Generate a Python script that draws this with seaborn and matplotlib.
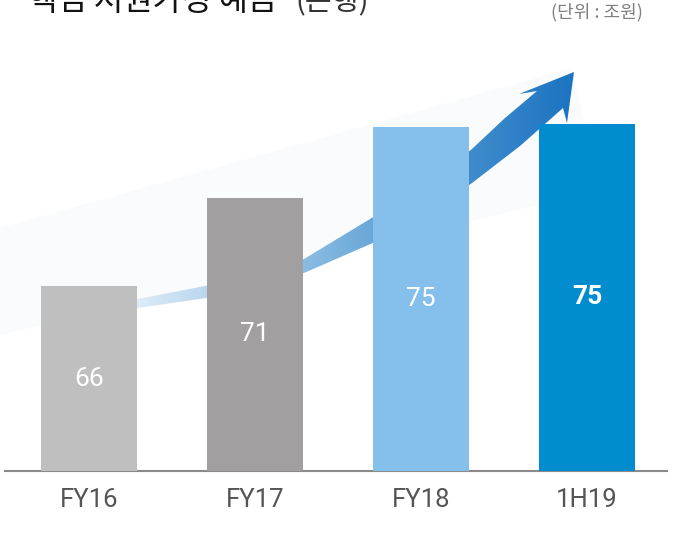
import matplotlib
matplotlib.use("Agg")
import matplotlib.pyplot as plt
import seaborn as sns
import numpy as np
from matplotlib.path import Path
from matplotlib.patches import PathPatch, Polygon
from matplotlib.colors import LinearSegmentedColormap

# 데이터
categories = ["FY16", "FY17", "FY18", "1H19"]
values = [65.9, 71.0, 75.1, 75.3]
bar_colors = ["#bfbfbf", "#a19fa0", "#84c0eb", "#008ccf"]
title_main = "핵심 저원가성 예금"
title_sub = "(은행)"
unit_text = "(단위 : 조원)"

sns.set_style("white")
plt.rcParams["font.family"] = ["Roboto", "DejaVu Sans"]
cjk = ["Noto Sans CJK KR", "DejaVu Sans"]

W, H = 674, 536
fig = plt.figure(figsize=(W / 100, H / 100), dpi=100)

# 배경 장식(화살표) - 픽셀 좌표
bg = fig.add_axes([0, 0, 1, 1])
bg.set_xlim(0, W)
bg.set_ylim(H, 0)
bg.axis("off")

wedge = Polygon([(0, 228), (572, 68), (600, 190), (0, 335)],
                closed=True, fc="#fafbfc", ec="none", zorder=0)
bg.add_patch(wedge)

upper = [(80, 313), (138, 299), (220, 283), (304, 259), (375, 216),
         (430, 183), (472, 149), (505, 118), (537, 91)]
head = [(519, 94), (574, 72), (567, 123), (563, 108)]
lower = [(520, 146), (472, 183), (430, 212), (375, 242), (304, 273),
         (220, 296), (138, 308), (80, 314)]
pts = upper + head + lower + [upper[0]]
codes = [Path.MOVETO] + [Path.LINETO] * (len(pts) - 2) + [Path.CLOSEPOLY]
arrow_patch = PathPatch(Path(pts, codes), fc="none", ec="none",
                        transform=bg.transData)
bg.add_patch(arrow_patch)

cmap = LinearSegmentedColormap.from_list("arr", [
    (0.0, (0.86, 0.92, 0.97, 0.0)),
    (0.15, (0.83, 0.90, 0.96, 1.0)),
    (0.45, "#8cbde2"),
    (0.72, "#4a94d0"),
    (1.0, "#1c73c0"),
])
grad = np.linspace(0, 1, 256).reshape(1, -1)
im = bg.imshow(grad, cmap=cmap, extent=(80, 575, 330, 60),
               aspect="auto", zorder=1, interpolation="bilinear")
im.set_clip_path(arrow_patch)
bg.set_xlim(0, W)
bg.set_ylim(H, 0)

# 막대 그래프
ax = fig.add_axes([5 / W, 65 / H, 662 / W, 411 / H])
ax.patch.set_alpha(0)
sns.barplot(x=categories, y=values, hue=categories, palette=bar_colors,
            legend=False, saturation=1, width=0.578, linewidth=0,
            ax=ax, zorder=3)

y0 = 55.2
ax.set_ylim(y0, y0 + 411 / 17.28)
ax.set_xlim(-0.506, -0.506 + 662 / 166)

for i, v in enumerate(values):
    last = i == len(values) - 1
    ax.text(i, (y0 + v) / 2, f"{v:.0f}", ha="center", va="center",
            color="white", fontsize=19,
            fontweight="bold" if last else "normal", zorder=4)

for s in ["left", "top", "right"]:
    ax.spines[s].set_visible(False)
ax.spines["bottom"].set_color("#8a8a8a")
ax.spines["bottom"].set_linewidth(1.5)
ax.set_yticks([])
ax.set_xlabel("")
ax.set_ylabel("")
ax.tick_params(axis="x", length=0, pad=12, labelsize=18.5, labelcolor="#555555")

# 제목 (위쪽이 잘린 상태), 단위
t1 = fig.text(28 / W, 1 - 10 / H, title_main, family=cjk, fontsize=23,
              fontweight="medium", color="#111111", va="baseline", ha="left")
fig.canvas.draw()
bb = t1.get_window_extent()
fig.text((bb.x1 + 18) / W, 1 - 10 / H, title_sub, family=cjk, fontsize=21,
         color="#333333", va="baseline", ha="left")
fig.text(643 / W, 1 - 12 / H, unit_text, family=cjk, fontsize=13,
         color="#7f7f7f", va="center", ha="right")

fig.savefig("out.png", dpi=100)
